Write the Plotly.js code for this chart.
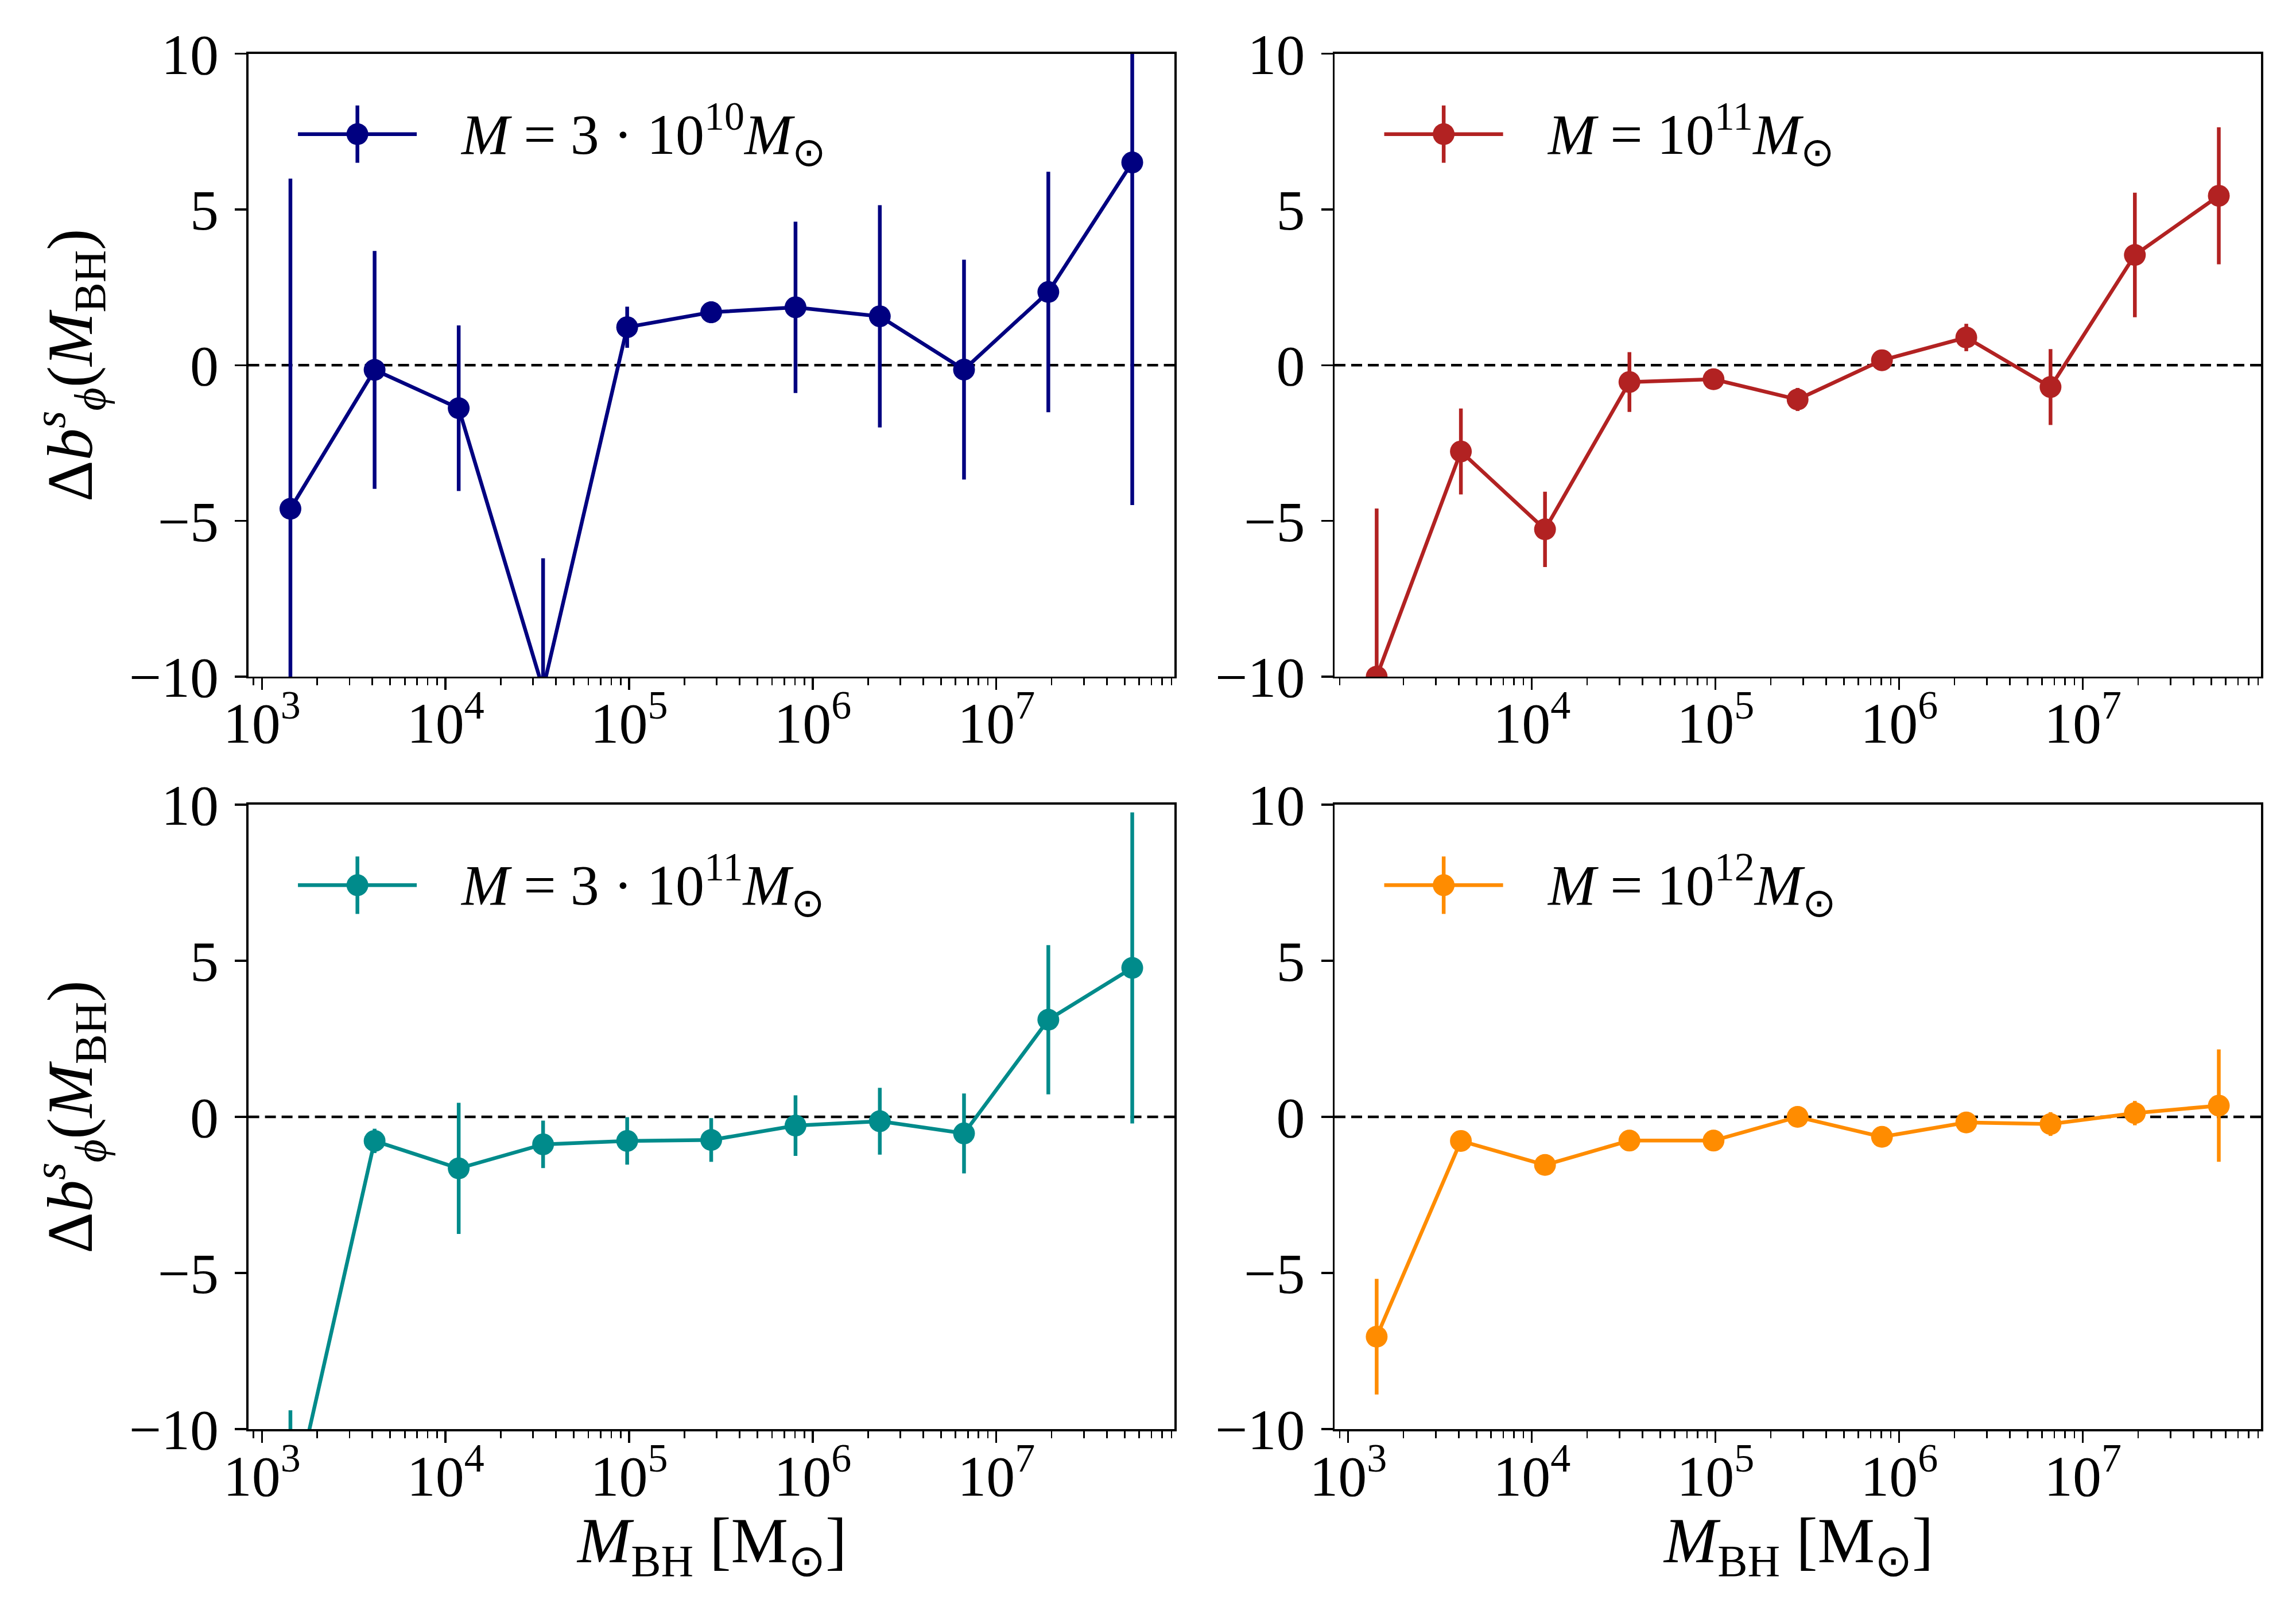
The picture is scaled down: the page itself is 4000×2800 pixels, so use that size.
<!DOCTYPE html>
<html>
<head>
<meta charset="utf-8">
<script src="https://cdn.plot.ly/plotly-3.0.1.min.js"></script>
<style>html,body{margin:0;padding:0;background:#fff;}</style>
</head>
<body>
<div id="chart" style="width:4000px;height:2800px;"></div>
<script>
// ---- data ----
const massBH = [1430, 4110, 11800, 34000, 97600, 280000, 806000, 2320000, 6670000, 19200000, 55000000];

const seriesNames = ['M = 3·10^10 Msun', 'M = 10^11 Msun', 'M = 3·10^11 Msun', 'M = 10^12 Msun'];
const legendLabels = [
  '<i>M</i> = 3 · 10<sup>10</sup><i>M</i><sub>⊙</sub>',
  '<i>M</i> = 10<sup>11</sup><i>M</i><sub>⊙</sub>',
  '<i>M</i> = 3 · 10<sup>11</sup><i>M</i><sub>⊙</sub>',
  '<i>M</i> = 10<sup>12</sup><i>M</i><sub>⊙</sub>'
];
const xTitle = '<i>M</i><sub>BH</sub> [M<sub>⊙</sub>]';
const yTitle = 'Δ<i>b</i><sup><i>s</i></sup><sub><i>ϕ</i></sub>(<i>M</i><sub>BH</sub>)';

const dB_3e10 = [-4.61, -0.15, -1.38, -10.4, 1.22, 1.70, 1.86, 1.57, -0.14, 2.35, 6.51];
const err_3e10 = [10.6, 3.82, 2.66, 4.2, 0.66, 0.35, 2.75, 3.57, 3.53, 3.86, 11.0];

const dB_1e11 = [-10.0, -2.77, -5.27, -0.54, -0.45, -1.10, 0.16, 0.89, -0.70, 3.54, 5.44];
const err_1e11 = [5.4, 1.38, 1.21, 0.96, 0.2, 0.37, 0.2, 0.44, 1.22, 2.0, 2.2];

const dB_3e11 = [-12.7, -0.77, -1.65, -0.88, -0.77, -0.74, -0.28, -0.14, -0.53, 3.11, 4.77];
const err_3e11 = [3.3, 0.39, 2.1, 0.76, 0.76, 0.7, 0.97, 1.07, 1.28, 2.39, 4.98];

const dB_1e12 = [-7.04, -0.77, -1.54, -0.76, -0.76, 0.0, -0.64, -0.18, -0.23, 0.12, 0.36];
const err_1e12 = [1.85, 0.15, 0.15, 0.15, 0.15, 0.15, 0.15, 0.15, 0.38, 0.39, 1.8];

const colors = ['#000080', '#b22222', '#008b8b', '#ff8c00'];

const xMajorTicks = [1e3, 1e4, 1e5, 1e6, 1e7];
const xMajorText = ['10<sup>3</sup>', '10<sup>4</sup>', '10<sup>5</sup>', '10<sup>6</sup>', '10<sup>7</sup>'];
const yTicks = [-10, -5, 0, 5, 10];
const yTickText = ['\u221210', '\u22125', '0', '5', '10'];

// ---- layout helpers ----
const FONT = '"Liberation Serif", "Times New Roman", serif';
const ys = [dB_3e10, dB_1e11, dB_3e11, dB_1e12];
const errs = [err_3e10, err_1e11, err_3e11, err_1e12];

const xDomains = [[0.10815, 0.5115], [0.58125, 0.98475], [0.10815, 0.5115], [0.58125, 0.98475]];
const yDomains = [[0.57893, 0.96654], [0.57893, 0.96654], [0.11071, 0.49929], [0.11071, 0.49929]];

// minor tick positions (2..9 x 10^k) inside the axis range
const minorTicks = [];
for (let e = 2; e <= 7; e++) {
  for (let m = 2; m <= 9; m++) {
    const v = m * Math.pow(10, e);
    if (v > 850 && v < 9.3e7) minorTicks.push(v);
  }
}

const traces = [];
const shapes = [];
const annotations = [];
const layout = {
  width: 4000, height: 2800,
  margin: {l: 0, r: 0, t: 0, b: 0, pad: 0},
  paper_bgcolor: '#ffffff', plot_bgcolor: '#ffffff',
  showlegend: false,
  font: {family: FONT, color: '#000000', size: 100}
};

for (let i = 0; i < 4; i++) {
  const sfx = i === 0 ? '' : String(i + 1);
  const xa = 'x' + sfx, ya = 'y' + sfx;
  traces.push({
    type: 'scatter', mode: 'lines+markers',
    name: seriesNames[i],
    x: massBH, y: ys[i],
    xaxis: xa, yaxis: ya,
    line: {color: colors[i], width: 6.5},
    marker: {color: colors[i], size: 38, symbol: 'circle'},
    error_y: {type: 'data', array: errs[i], visible: true, color: colors[i], thickness: 6.5, width: 0},
    cliponaxis: true
  });

  const isTopRight = (i === 1);
  layout['xaxis' + sfx] = {
    type: 'log', domain: xDomains[i], anchor: ya,
    range: [2.926, 7.970], autorange: false,
    showgrid: false, zeroline: false,
    showline: true, linecolor: '#000000', linewidth: 3.5, mirror: true,
    ticks: 'outside', ticklen: 20, tickwidth: 3.5, tickcolor: '#000000',
    tickmode: 'array',
    tickvals: isTopRight ? xMajorTicks.slice(1) : xMajorTicks,
    ticktext: isTopRight ? xMajorText.slice(1) : xMajorText,
    tickfont: {family: FONT, size: 100, color: '#000000'},
    ticklabelstandoff: -28,
    minor: {tickmode: 'array', tickvals: minorTicks, ticks: 'outside', ticklen: 12, tickwidth: 2.7, tickcolor: '#000000', showgrid: false},
    automargin: false
  };
  layout['yaxis' + sfx] = {
    domain: yDomains[i], anchor: xa,
    range: [-10, 10], autorange: false,
    showgrid: false, zeroline: false,
    showline: true, linecolor: '#000000', linewidth: 3.5, mirror: true,
    ticks: 'outside', ticklen: 20, tickwidth: 3.5, tickcolor: '#000000',
    tickmode: 'array', tickvals: yTicks, ticktext: yTickText,
    tickfont: {family: FONT, size: 100, color: '#000000'},
    ticklabelstandoff: 8,
    automargin: false
  };

  // axis titles (placed as annotations for exact positioning)
  if (i >= 2) {
    annotations.push({
      xref: xa + ' domain', yref: 'paper',
      x: 0.5, y: 0.0385, xanchor: 'center', yanchor: 'middle',
      text: xTitle, showarrow: false,
      font: {family: FONT, size: 112, color: '#000000'}
    });
  }
  if (i % 2 === 0) {
    annotations.push({
      xref: 'paper', yref: ya + ' domain',
      x: 0.0305, y: 0.5, xanchor: 'center', yanchor: 'middle',
      text: yTitle, textangle: -90, showarrow: false,
      font: {family: FONT, size: 112, color: '#000000'}
    });
  }

  // dashed reference line at zero
  shapes.push({
    type: 'line', xref: xa + ' domain', yref: ya,
    x0: 0, x1: 1, y0: 0, y1: 0,
    line: {color: '#000000', width: 4.5, dash: '19px,10px'},
    layer: 'below'
  });

  // legend glyph: line, error bar, marker
  const ly = 0.871;
  shapes.push({
    type: 'line', xref: xa + ' domain', yref: ya + ' domain',
    x0: 0.0536, x1: 0.1819, y0: ly, y1: ly,
    line: {color: colors[i], width: 6.5}
  });
  shapes.push({
    type: 'line', xref: xa + ' domain', yref: ya + ' domain',
    x0: 0.1178, x1: 0.1178, y0: ly - 0.046, y1: ly + 0.046,
    line: {color: colors[i], width: 6.5}
  });
  shapes.push({
    type: 'circle', xref: xa + ' domain', yref: ya + ' domain',
    xsizemode: 'pixel', ysizemode: 'pixel',
    xanchor: 0.1178, yanchor: ly,
    x0: -19, x1: 19, y0: -19, y1: 19,
    fillcolor: colors[i], line: {width: 0}
  });
  annotations.push({
    xref: xa + ' domain', yref: ya + ' domain',
    x: 0.228, y: ly, xanchor: 'left', yanchor: 'middle',
    text: legendLabels[i], showarrow: false,
    font: {family: FONT, size: 100, color: '#000000'}
  });
}
layout.shapes = shapes;
layout.annotations = annotations;

Plotly.newPlot('chart', traces, layout, {staticPlot: true, displayModeBar: false});
</script>
</body>
</html>
